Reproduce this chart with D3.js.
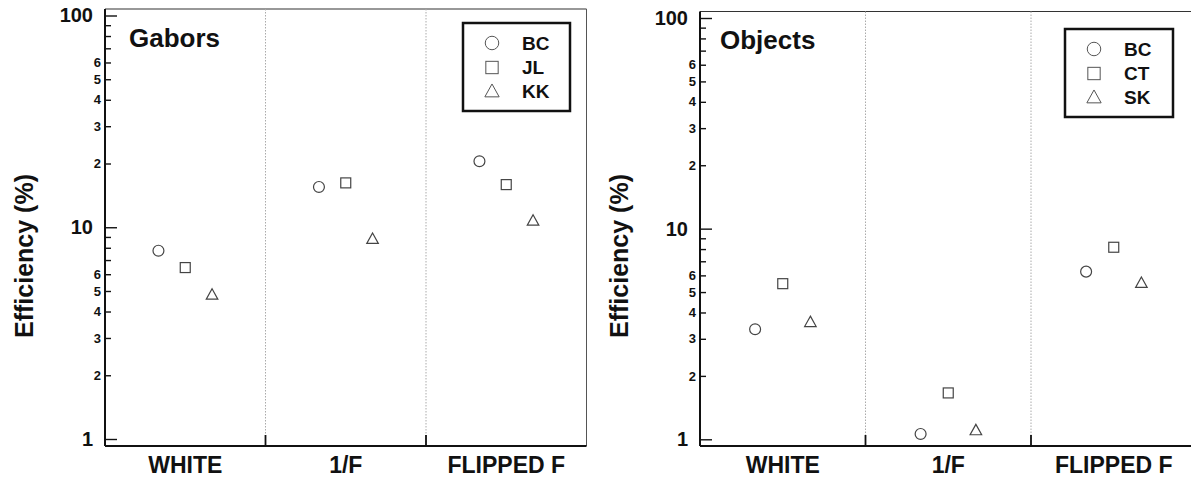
<!DOCTYPE html>
<html>
<head>
<meta charset="utf-8">
<script src="https://cdn.jsdelivr.net/npm/d3@7"></script>
<style>
  html, body { margin: 0; padding: 0; background: #fff; }
  svg { display: block; font-family: Arial, "Liberation Sans", Helvetica, sans-serif; }
  .tick line { stroke: #111; stroke-width: 1.4; }
</style>
</head>
<body>
<svg id="chart" width="1191" height="480"></svg>
<script>
// Noise conditions on the x axis
const categories = ["WHITE", "1/F", "FLIPPED F"];

// Gabor task: efficiency (%) per observer
const gaborObservers = ["BC", "JL", "KK"];
const gaborBC = [7.75, 15.5, 20.5];
const gaborJL = [6.45, 16.2, 15.9];
const gaborKK = [4.79, 8.78, 10.7];

// Object task: efficiency (%) per observer
const objectObservers = ["BC", "CT", "SK"];
const objectBC = [3.33, 1.06, 6.25];
const objectCT = [5.48, 1.66, 8.16];
const objectSK = [3.59, 1.10, 5.51];

// Log axis ticks
const majorTicks = [1, 10, 100];
const majorTickLabels = ["1", "10", "100"];
const minorTicks = [2, 3, 4, 5, 6, 7, 8, 9, 20, 30, 40, 50, 60, 70, 80, 90];
const minorTickLabels = ["2", "3", "4", "5", "6", "", "", "", "2", "3", "4", "5", "6", "", "", ""];

const markerShapes = ["circle", "square", "triangle"];

const panels = [
  {
    title: "Gabors", observers: gaborObservers, series: [gaborBC, gaborJL, gaborKK],
    x0: 105, x1: 586.5, top: 9, bottom: 446, yLow: 439, yHigh: 15.5,
    titleX: 129, titleY: 47, labelX: 24,
    legend: { x: 463, y: 23, w: 107, h: 88 }
  },
  {
    title: "Objects", observers: objectObservers, series: [objectBC, objectCT, objectSK],
    x0: 700, x1: 1196.5, top: 11.5, bottom: 446, yLow: 439.3, yHigh: 18,
    titleX: 720, titleY: 49, labelX: 619,
    legend: { x: 1065, y: 29, w: 108, h: 88 }
  }
];

const svg = d3.select("#chart");

function drawMarker(g, shape, cx, cy, size) {
  if (shape === "circle") {
    g.append("circle").attr("cx", cx).attr("cy", cy).attr("r", size * 0.52);
  } else if (shape === "square") {
    const s = size * 0.95;
    g.append("rect").attr("x", cx - s / 2).attr("y", cy - s / 2).attr("width", s).attr("height", s);
  } else {
    const s = size * 1.1, h = s * 0.9;
    g.append("path").attr("d",
      `M${cx},${cy - h * 0.6} L${cx + s / 2},${cy + h * 0.4} L${cx - s / 2},${cy + h * 0.4} Z`);
  }
}

panels.forEach(p => {
  const g = svg.append("g");

  const x = d3.scaleBand().domain(categories).range([p.x0, p.x1]).paddingInner(0).paddingOuter(0);
  const offset = x.bandwidth() * 0.167;
  const xs = d3.scalePoint().domain(p.observers).range([-offset, offset]);
  const y = d3.scaleLog().domain([1, 100]).range([p.yLow, p.yHigh]);

  // frame (top and right)
  g.append("line").attr("x1", p.x0).attr("x2", p.x1).attr("y1", p.top).attr("y2", p.top)
    .attr("stroke", "#333").attr("stroke-width", 1.2);
  g.append("line").attr("x1", p.x1).attr("x2", p.x1).attr("y1", p.top).attr("y2", p.bottom)
    .attr("stroke", "#555").attr("stroke-width", 1);

  // dotted separators between conditions, with short ticks on the base line
  categories.slice(1).forEach(c => {
    const xx = x(c);
    g.append("line").attr("x1", xx).attr("x2", xx).attr("y1", p.top).attr("y2", p.bottom)
      .attr("stroke", "#aaa").attr("stroke-width", 1).attr("stroke-dasharray", "1.5,1.5");
    g.append("line").attr("x1", xx).attr("x2", xx).attr("y1", p.bottom - 11).attr("y2", p.bottom)
      .attr("stroke", "#111").attr("stroke-width", 1.8);
  });

  // y axis: minor ticks
  const minorAxis = d3.axisLeft(y).tickValues(minorTicks)
    .tickFormat((d, i) => minorTickLabels[i]).tickSize(-6).tickPadding(4);
  const gMinor = g.append("g").attr("transform", `translate(${p.x0},0)`).call(minorAxis);
  gMinor.select(".domain").remove();
  gMinor.selectAll("text").attr("font-size", 13).attr("font-weight", "bold").attr("fill", "#111")
    .attr("font-family", "Arial, 'Liberation Sans', sans-serif");

  // y axis: major ticks
  const majorAxis = d3.axisLeft(y).tickValues(majorTicks)
    .tickFormat((d, i) => majorTickLabels[i]).tickSize(-12).tickPadding(12);
  const gMajor = g.append("g").attr("transform", `translate(${p.x0},0)`).call(majorAxis);
  gMajor.select(".domain").remove();
  gMajor.selectAll("text").attr("font-size", 20).attr("font-weight", "bold").attr("fill", "#111")
    .attr("font-family", "Arial, 'Liberation Sans', sans-serif");

  // axis lines
  g.append("line").attr("x1", p.x0).attr("x2", p.x0).attr("y1", p.top).attr("y2", p.bottom)
    .attr("stroke", "#111").attr("stroke-width", 2);
  g.append("line").attr("x1", p.x0).attr("x2", p.x1).attr("y1", p.bottom).attr("y2", p.bottom)
    .attr("stroke", "#111").attr("stroke-width", 2);

  // category labels
  const xAxis = d3.axisBottom(x).tickSize(0).tickPadding(11);
  const gx = g.append("g").attr("transform", `translate(0,${p.bottom})`).call(xAxis);
  gx.select(".domain").remove();
  gx.selectAll("text").attr("font-size", 23).attr("font-weight", "bold").attr("fill", "#111")
    .attr("font-family", "Arial, 'Liberation Sans', sans-serif");

  // y axis title
  g.append("text")
    .attr("transform", `translate(${p.labelX},256) rotate(-90)`)
    .attr("text-anchor", "middle").attr("dominant-baseline", "central")
    .attr("font-size", 25).attr("font-weight", "bold").attr("fill", "#111")
    .text("Efficiency (%)");

  // panel title
  g.append("text").attr("x", p.titleX).attr("y", p.titleY)
    .attr("font-size", 26).attr("font-weight", "bold").attr("fill", "#111").text(p.title);

  // data markers
  const gm = g.append("g").attr("fill", "#fff").attr("stroke", "#444").attr("stroke-width", 1.2);
  p.series.forEach((vals, si) => {
    vals.forEach((v, ci) => {
      const cx = x(categories[ci]) + x.bandwidth() / 2 + xs(p.observers[si]);
      drawMarker(gm, markerShapes[si], cx, y(v), 10.5);
    });
  });

  // legend
  const L = p.legend;
  const gl = g.append("g");
  gl.append("rect").attr("x", L.x).attr("y", L.y).attr("width", L.w).attr("height", L.h)
    .attr("fill", "#fff").attr("stroke", "#111").attr("stroke-width", 2.5);
  const rowY = [20, 44.5, 68.7];
  const gls = gl.append("g").attr("fill", "#fff").attr("stroke", "#555").attr("stroke-width", 1);
  p.observers.forEach((name, i) => {
    drawMarker(gls, markerShapes[i], L.x + 29, L.y + rowY[i], 13);
    gl.append("text").attr("x", L.x + 59).attr("y", L.y + rowY[i])
      .attr("dominant-baseline", "central")
      .attr("font-size", 19).attr("font-weight", "bold").attr("fill", "#111").text(name);
  });
});
</script>
</body>
</html>
